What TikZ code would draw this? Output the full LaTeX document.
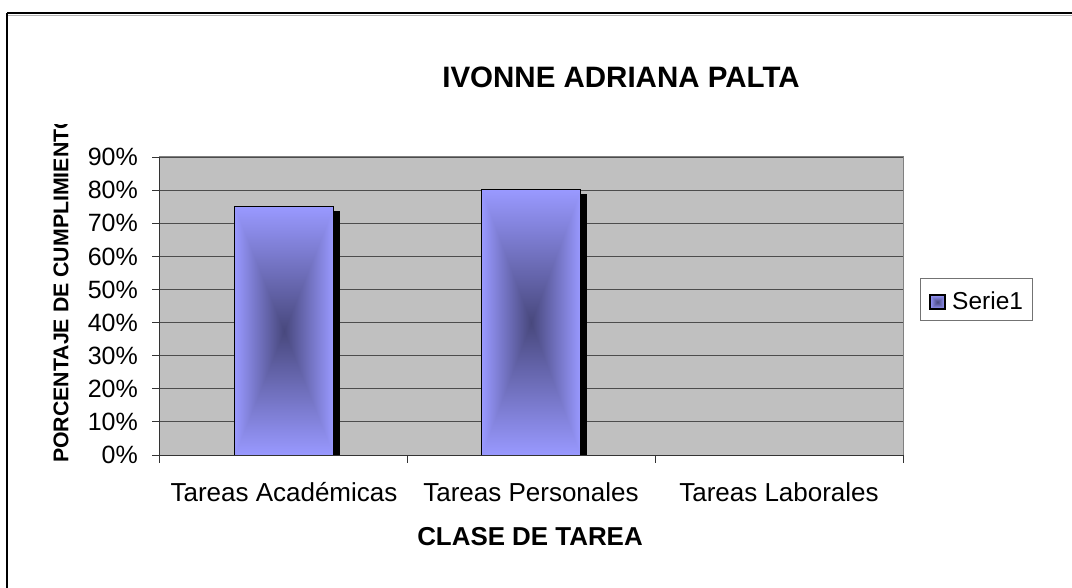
\documentclass[tikz,border=0pt]{standalone}
\usepackage{fontspec}
\setmainfont{Liberation Sans}
% rectangular "from centre" gradient: dark at the centre, light at the edges
\pgfdeclarefunctionalshading{barshade}{\pgfpoint{-50bp}{-50bp}}{\pgfpoint{50bp}{50bp}}{}{
  abs exch abs
  2 copy gt {pop} {exch pop} ifelse
  25 div dup 1 gt {pop 1} if
  dup dup
  0.51 mul 0.49 add
  3 1 roll
  0.3176 mul 0.2824 add
  3 1 roll
  0.3176 mul 0.2824 add
  3 1 roll
}
\begin{document}
\begin{tikzpicture}[x=1pt,y=-1pt,
  tick/.style={font=\fontsize{25}{25}\selectfont, anchor=east, inner sep=0pt},
  cat/.style={font=\fontsize{26}{26}\selectfont, inner sep=0pt},
  grid/.style={draw=black!70, line width=0.9pt},
  axisline/.style={draw=black!80, line width=1pt},
  shadowbar/.style={fill=black},
  bartop/.style={draw=black, line width=1pt}]
\useasboundingbox (0,0) rectangle (1072,588);
\fill[white] (0,0) rectangle (1072,588);
% outer frame
\draw[black!30, line width=1pt] (8,15.5) -- (1072,15.5);
\draw[black, line width=2.5pt] (7,13) -- (1072,13);
\draw[black, line width=2.5pt] (7,13) -- (7,588);
% title
\node[font=\bfseries\fontsize{29.5}{30}\selectfont, inner sep=0pt] (title) at (621,77) {IVONNE ADRIANA PALTA};
% plot area
\fill[fill={rgb,255:red,192;green,192;blue,192}] (159,157) rectangle (903,455);
\draw[black!50, line width=1pt] (159,157) -- (903,157) -- (903,455);
% gridlines and tick labels
\foreach \i in {1,...,9} {
  \draw[grid] (159,{455-\i*33.1}) -- (903,{455-\i*33.1});
}
\foreach \i in {0,...,9} {
  \draw[axisline] (152,{455-\i*33.1}) -- (159,{455-\i*33.1});
  \node[tick] (t\i) at (138,{455-\i*33.1}) {\pgfmathparse{int(\i*10)}\pgfmathresult\%};
}
% bars
\foreach \cx/\top/\n in {284/207/a, 531/190/b} {
  \pgfmathsetmacro{\L}{\cx-49.5}
  \pgfmathsetmacro{\R}{\cx+49.5}
  \fill[shadowbar] ({\L+6},{\top+4}) rectangle ({\R+6},455);
  \shade[shading=barshade] (\L,\top) rectangle (\R,455);
  \draw[bartop] (\L,455) -- (\L,\top) -- (\R,\top) -- (\R,455) -- cycle;
  \coordinate (bar\n) at (\cx,\top);
}
% axes
\draw[axisline] (159,157) -- (159,455);
\draw[axisline] (152,455) -- (903,455);
\foreach \x in {159,407,655,903} {
  \draw[axisline] (\x,455) -- (\x,463);
}
% category labels
\node[cat] (c1) at (284,492) {Tareas Académicas};
\node[cat] (c2) at (531,492) {Tareas Personales};
\node[cat] (c3) at (779,492) {Tareas Laborales};
% axis titles
\node[font=\bfseries\fontsize{25.9}{26}\selectfont, inner sep=0pt] (xt) at (530,537) {CLASE DE TAREA};
\begin{scope}
\clip (30,125) rectangle (90,480);
\node[font=\bfseries\fontsize{21.3}{22}\selectfont, inner sep=0pt, rotate=90, anchor=west] (yt) at (61,463) {PORCENTAJE DE CUMPLIMIENTO};
\end{scope}
% legend
\draw[black!55, line width=1pt, fill=white] (920,279) rectangle (1032,321);
\shade[shading=barshade] (930,295) rectangle (945,309);
\draw[black, line width=1.3pt] (930,295) rectangle (945,309);
\node[font=\fontsize{24.5}{25}\selectfont, inner sep=0pt, anchor=west] (leg) at (952,301) {Serie1};
\end{tikzpicture}
\end{document}
